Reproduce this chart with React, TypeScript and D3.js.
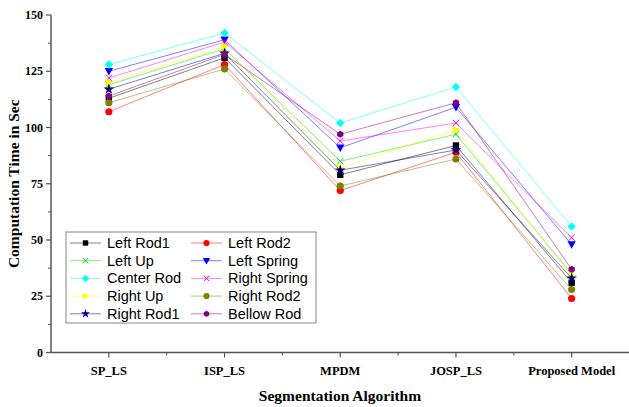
import React from "react";
import * as d3 from "d3";

const categories = ["SP_LS", "ISP_LS", "MPDM", "JOSP_LS", "Proposed Model"];
const seriesNames = [
  "Left Rod1", "Left Rod2", "Left Up", "Left Spring", "Center Rod",
  "Right Spring", "Right Up", "Right Rod2", "Right Rod1", "Bellow Rod",
];
const leftRod1 = [113, 131, 79, 92, 31];
const leftRod2 = [107, 128, 72, 89, 24];
const leftUp = [119, 135, 85, 97, 35];
const leftSpring = [125, 139, 91, 109, 48];
const centerRod = [128, 142, 102, 118, 56];
const rightSpring = [122, 138, 94, 102, 51];
const rightUp = [120, 136, 82, 99, 34];
const rightRod2 = [111, 126, 74, 86, 28];
const rightRod1 = [117, 133, 81, 90, 33];
const bellowRod = [114, 132.5, 97, 111, 37];
const yTicks = [0, 25, 50, 75, 100, 125, 150];

const seriesValues = [leftRod1, leftRod2, leftUp, leftSpring, centerRod, rightSpring, rightUp, rightRod2, rightRod1, bellowRod];
const colors = ["#000000", "#ff0000", "#00e000", "#0000ff", "#00ffff", "#ff00ff", "#ffff00", "#808000", "#000080", "#800080"];
const markers = ["square", "circle", "x", "tridown", "diamond", "x", "triright", "circle", "star", "hexagon"];

function Marker({ type, x, y, color, s = 3.2 }: { type: string; x: number; y: number; color: string; s?: number }) {
  switch (type) {
    case "square":
      return <rect x={x - s} y={y - s} width={2 * s} height={2 * s} fill={color} />;
    case "circle":
      return <circle cx={x} cy={y} r={s + 0.4} fill={color} />;
    case "x":
      return (
        <path d={`M${x - s},${y - s}L${x + s},${y + s}M${x - s},${y + s}L${x + s},${y - s}`} stroke={color} strokeWidth={1} />
      );
    case "tridown":
      return <path d={`M${x - s - 1},${y - s}L${x + s + 1},${y - s}L${x},${y + s + 1}Z`} fill={color} />;
    case "triright":
      return <path d={`M${x - s},${y - s - 1}L${x - s},${y + s + 1}L${x + s + 1},${y}Z`} fill={color} />;
    case "diamond":
      return <path d={`M${x},${y - s - 1}L${x + s + 1},${y}L${x},${y + s + 1}L${x - s - 1},${y}Z`} fill={color} />;
    case "star": {
      const p = d3.symbol().type(d3.symbolStar).size(s * s * 3.5)();
      return <path d={p || ""} transform={`translate(${x},${y})`} fill={color} />;
    }
    case "hexagon": {
      const pts = d3.range(6).map((i) => {
        const a = (Math.PI / 3) * i + Math.PI / 6;
        return `${x + (s + 0.4) * Math.cos(a)},${y + (s + 0.4) * Math.sin(a)}`;
      });
      return <polygon points={pts.join(" ")} fill={color} />;
    }
  }
  return null;
}

export default function App() {
  const W = 629, H = 407;
  const left = 51, right = 629, top = 15, bottom = 352.5;
  const x = d3.scaleLinear().domain([-0.5, categories.length - 0.5]).range([left, right + 0.5]);
  const y = d3.scaleLinear().domain([0, 150]).range([bottom, top]);
  const line = d3.line<number>().x((_, i) => x(i)).y((d) => y(d));
  const axisColor = "#555";
  const minorY = d3.range(12.5, 150, 25);
  const minorX = d3.range(0.5, categories.length - 0.5, 1);
  const serif = "'Liberation Serif', 'Times New Roman', serif";
  const sans = "'Liberation Sans', Arial, sans-serif";

  const legendX = 66, legendY = 232, legendW = 250, legendH = 91;
  const rowH = 17.7;

  return (
    <svg width={W} height={H} style={{ position: "absolute", left: 0, top: 0, background: "#fff" }}>
      {seriesValues.map((vals, si) => (
        <g key={si}>
          <path d={line(vals) || ""} fill="none" stroke={colors[si]} strokeWidth={1} strokeOpacity={0.5} />
          {vals.map((v, i) => (
            <Marker key={i} type={markers[si]} x={x(i)} y={y(v)} color={colors[si]} />
          ))}
        </g>
      ))}
      <line x1={left} x2={left} y1={top} y2={bottom} stroke={axisColor} strokeWidth={1.5} />
      <line x1={left} x2={right} y1={bottom} y2={bottom} stroke={axisColor} strokeWidth={1.5} />
      {yTicks.map((t) => (
        <g key={t}>
          <line x1={left - 5} x2={left} y1={y(t)} y2={y(t)} stroke={axisColor} strokeWidth={1.2} />
          <text x={left - 8} y={y(t) + 4} textAnchor="end" fontFamily={serif} fontWeight="bold" fontSize={12}>
            {t}
          </text>
        </g>
      ))}
      {minorY.map((t) => (
        <line key={t} x1={left - 3} x2={left} y1={y(t)} y2={y(t)} stroke={axisColor} strokeWidth={1} />
      ))}
      {categories.map((c, i) => (
        <g key={c}>
          <line x1={x(i)} x2={x(i)} y1={bottom} y2={bottom + 5} stroke={axisColor} strokeWidth={1.2} />
          <text x={x(i)} y={bottom + 22} textAnchor="middle" fontFamily={serif} fontWeight="bold" fontSize={12.5}>
            {c}
          </text>
        </g>
      ))}
      {minorX.map((t) => (
        <line key={t} x1={x(t)} x2={x(t)} y1={bottom} y2={bottom + 3} stroke={axisColor} strokeWidth={1} />
      ))}
      <text x={340} y={401} textAnchor="middle" fontFamily={serif} fontWeight="bold" fontSize={15.5}>
        Segmentation Algorithm
      </text>
      <text
        transform={`translate(19,${(top + bottom) / 2}) rotate(-90)`}
        textAnchor="middle"
        fontFamily={serif}
        fontWeight="bold"
        fontSize={15.5}
      >
        Computation Time in Sec
      </text>
      <rect x={legendX} y={legendY} width={legendW} height={legendH} fill="#fff" stroke="#888" strokeWidth={1} />
      {seriesNames.map((name, si) => {
        const col = si % 2;
        const row = Math.floor(si / 2);
        const lx = legendX + 4 + col * 121;
        const ly = legendY + 11 + row * rowH;
        return (
          <g key={name}>
            <line x1={lx} x2={lx + 31} y1={ly} y2={ly} stroke={colors[si]} strokeWidth={1} strokeOpacity={0.5} />
            <Marker type={markers[si]} x={lx + 15.5} y={ly} color={colors[si]} s={2.7} />
            <text x={lx + 37} y={ly + 5} fontFamily={sans} fontSize={14.5}>
              {name}
            </text>
          </g>
        );
      })}
    </svg>
  );
}
